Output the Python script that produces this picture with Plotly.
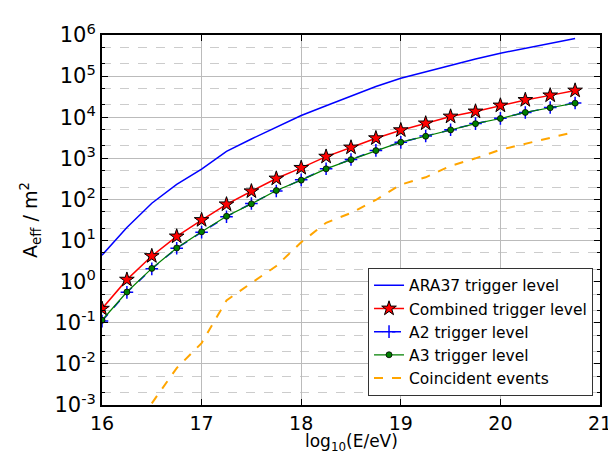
import plotly.graph_objects as go

# energies, log10(E/eV)
log_e = [16.0, 16.25, 16.5, 16.75, 17.0, 17.25, 17.5, 17.75, 18.0, 18.25,
         18.5, 18.75, 19.0, 19.25, 19.5, 19.75, 20.0, 20.25, 20.5, 20.75]

# effective areas in m^2
ara37 = [4.4, 20.7, 81, 232, 547, 1480, 2960, 5800, 11000, 19000,
         32700, 56000, 89000, 128000, 184000, 260000, 360000, 467000, 620000, 820000]
combined = [0.22, 1.12, 4.2, 12.6, 31.6, 76, 158, 323, 587, 1100,
            1840, 3090, 4840, 7080, 10400, 13800, 19300, 26300, 34000, 44600]
a2 = [0.11, 0.55, 2.05, 6.5, 16.0, 38, 80, 160, 300, 560,
      940, 1560, 2450, 3480, 4950, 7000, 9400, 13000, 17200, 22200]
a3 = [0.115, 0.56, 2.1, 6.6, 16.3, 39, 78, 165, 295, 555,
      930, 1540, 2470, 3450, 4920, 6960, 9300, 13100, 17000, 22000]
coinc_e = [16.5, 16.75, 17.0, 17.25, 17.5, 17.75, 18.0, 18.25, 18.5, 18.75,
           19.0, 19.25, 19.5, 19.75, 20.0, 20.25, 20.5, 20.75]
coincident = [0.0011, 0.0079, 0.032, 0.35, 0.93, 2.4, 9.1, 27, 47, 97,
              230, 345, 655, 1000, 1620, 2230, 3090, 4400]

y_tickvals = [1e-3, 1e-2, 1e-1, 1, 10, 100, 1e3, 1e4, 1e5, 1e6]
y_ticktext = ["10<sup>-3</sup>", "10<sup>-2</sup>", "10<sup>-1</sup>", "10<sup>0</sup>",
              "10<sup>1</sup>", "10<sup>2</sup>", "10<sup>3</sup>", "10<sup>4</sup>",
              "10<sup>5</sup>", "10<sup>6</sup>"]

fig = go.Figure()
fig.add_trace(go.Scatter(x=log_e, y=ara37, mode="lines", name="ARA37 trigger level",
                         line=dict(color="blue", width=1.5)))
fig.add_trace(go.Scatter(x=log_e, y=combined, mode="lines+markers", name="Combined trigger level",
                         line=dict(color="red", width=1.5),
                         marker=dict(symbol="star", size=11, color="red",
                                     line=dict(color="black", width=1))))
fig.add_trace(go.Scatter(x=log_e, y=a2, mode="lines+markers", name="A2 trigger level",
                         line=dict(color="blue", width=1.5, dash="dash"),
                         marker=dict(symbol="cross-thin", size=9,
                                     line=dict(color="blue", width=1.5))))
fig.add_trace(go.Scatter(x=log_e, y=a3, mode="lines+markers", name="A3 trigger level",
                         line=dict(color="green", width=1.2),
                         marker=dict(symbol="circle", size=6, color="green",
                                     line=dict(color="black", width=0.8))))
fig.add_trace(go.Scatter(x=coinc_e, y=coincident, mode="lines", name="Coincident events",
                         line=dict(color="orange", width=2, dash="dash")))

fig.update_layout(
    width=616, height=455,
    margin=dict(l=94, r=17, t=17, b=58),
    paper_bgcolor="white", plot_bgcolor="white",
    font=dict(family="DejaVu Sans", color="black"),
    legend=dict(x=0.986, y=0.025, xanchor="right", yanchor="bottom",
                bgcolor="white", bordercolor="#333333", borderwidth=1,
                font=dict(size=15.5)),
)
# x-axis title as an annotation so the subscript is not clipped
fig.add_annotation(text="log<sub>10</sub>(E/eV)", xref="paper", yref="paper",
                   x=0.5, y=-0.068, xanchor="center", yanchor="top",
                   showarrow=False, borderpad=0, font=dict(size=17))
fig.update_xaxes(
    range=[16, 21], dtick=1, tick0=16,
    showgrid=True, gridcolor="#bbbbbb", gridwidth=1,
    ticks="inside", ticklen=6, tickcolor="black",
    showline=True, linecolor="black", linewidth=2, mirror="ticks",
    zeroline=False, tickfont=dict(size=19),
)
fig.update_yaxes(
    type="log", range=[-3, 6],
    tickvals=y_tickvals, ticktext=y_ticktext,
    showgrid=True, gridcolor="#bbbbbb", gridwidth=1,
    ticks="inside", ticklen=6, tickcolor="black",
    showline=True, linecolor="black", linewidth=2, mirror="ticks",
    zeroline=False, tickfont=dict(size=21),
    minor=dict(showgrid=True, gridcolor="#cccccc", griddash="dash",
               ticks="inside", ticklen=3, tickcolor="black"),
    title=dict(text="A<sub>eff</sub> / m<sup>2</sup>", font=dict(size=19), standoff=12),
)

fig.write_html("out.html")
